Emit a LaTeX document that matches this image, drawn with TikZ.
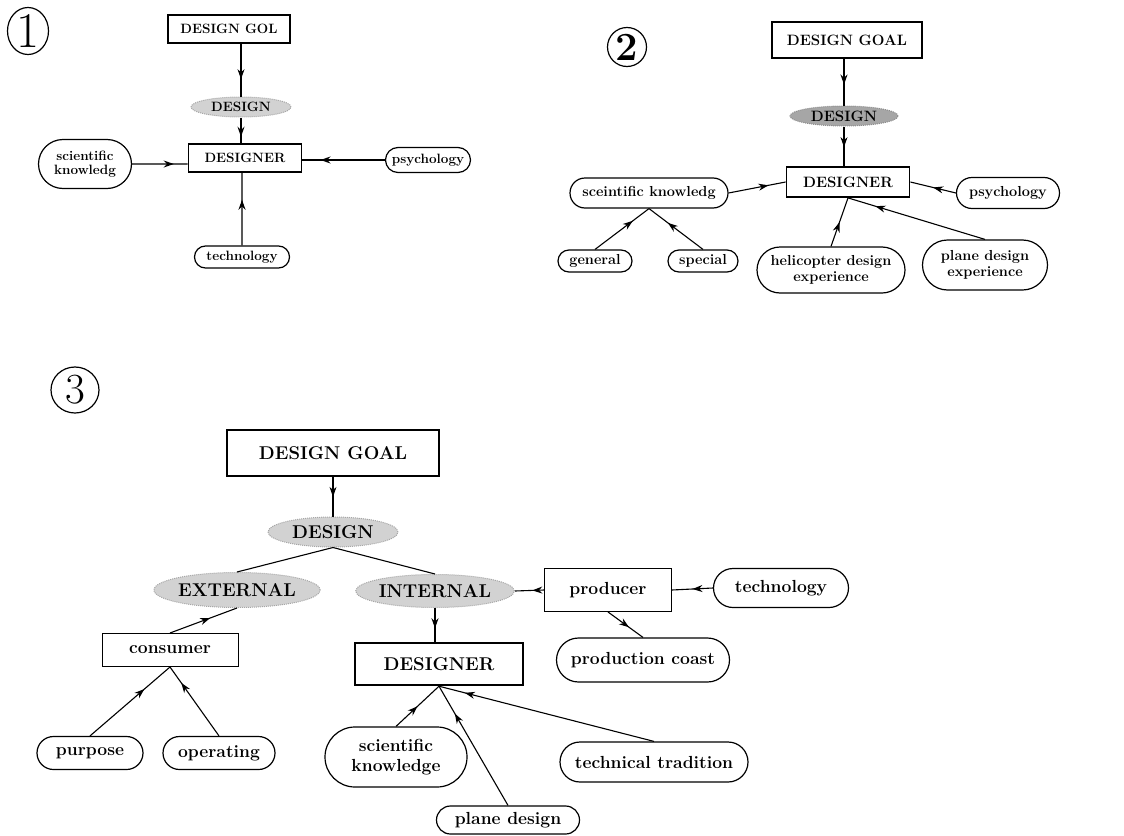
\documentclass[tikz,border=0pt]{standalone}
\usepackage{fontspec}
\usepackage{tikz}
\usetikzlibrary{shapes.geometric}
\usetikzlibrary{shapes.misc}
\usetikzlibrary{arrows.meta}
\usetikzlibrary{decorations.markings}
\tikzstyle{Box}=[rectangle,draw,line width=1.8pt,inner sep=0pt]
\tikzstyle{BoxThin}=[rectangle,draw,line width=1pt,inner sep=0pt]
\tikzstyle{Oval}=[rounded rectangle,draw,line width=1.2pt,inner sep=0pt,
align=center]
\tikzstyle{Cloud}=[ellipse,draw=gray!70,densely dotted,line width=1pt,
fill=gray!35,inner sep=0pt]
\tikzstyle{Num}=[ellipse,draw,line width=1.2pt,inner sep=0pt]
\tikzstyle{Edge}=[draw,line width=1.1pt]
\tikzset{Flow/.style={Edge,decoration={markings,mark=at position #1 with
    {\arrow{Stealth[length=10pt,width=7pt]}}},postaction={decorate}}}
\tikzstyle{CapA}=[font=\fontsize{13.5}{15}\selectfont\bfseries]
\tikzstyle{LowA}=[font=\fontsize{13.5}{14.5}\selectfont\bfseries]
\tikzstyle{CapB}=[font=\fontsize{15}{17}\selectfont\bfseries]
\tikzstyle{LowB}=[font=\fontsize{14.5}{15.5}\selectfont\bfseries]
\tikzstyle{CapC}=[font=\fontsize{18.5}{20}\selectfont\bfseries]
\tikzstyle{LowC}=[font=\fontsize{17.5}{20}\selectfont\bfseries]

\begin{document}
\begin{tikzpicture}[x=1pt,y=-1pt]
        \useasboundingbox(0,0)rectangle(1124,835);
        \node[Num,minimum width=41pt,minimum height=47pt,
            font=\fontsize{50}{50}\selectfont](numA)at(28,31){1};
        \node[Box,CapA,minimum width=122pt,minimum height=28pt](goalA)
            at(229,29){DESIGN GOL};
        \node[Cloud,CapA,minimum width=100pt,minimum height=20pt](designA)
            at(241,107){DESIGN};
        \node[Box,CapA,minimum width=113pt,minimum height=28pt](designerA)
            at(245,158){DESIGNER};
        \node[Oval,LowA,minimum width=93pt,minimum height=49pt](sciA)
            at(85,164){scientific\\knowledg};
        \node[Oval,LowA,minimum width=85pt,minimum height=25pt](psyA)
            at(428,160){psychology};
        \node[Oval,LowA,minimum width=95pt,minimum height=22pt](techA)
            at(242,257){technology};
        \draw[Flow=0.67](goalA.south -| designA)--(designA.north);
        \draw[Flow=0.75](designA.south)--(designA |- designerA.north);
        \draw[Flow=0.75](sciA)--(sciA -| designerA.west);
        \draw[Flow=0.78](psyA)--(psyA -| designerA.east);
        \draw[Flow=0.63](techA)--(techA |- designerA.south);

        \node[Num,minimum width=39pt,minimum height=39pt,
            font=\fontsize{40}{40}\selectfont\bfseries](numB)at(627,47){2};
        \node[Box,CapB,minimum width=150pt,minimum height=36pt](goalB)
            at(847,40){DESIGN GOAL};
        \node[Cloud,CapB,fill=gray!70,draw=gray!90,minimum width=108pt,
            minimum height=20pt](designB)at(844,116){DESIGN};
        \node[Box,CapB,minimum width=123pt,minimum height=30pt](designerB)
            at(848,182){DESIGNER};
        \node[Oval,LowB,minimum width=158pt,minimum height=30pt](sciB)
            at(649,193){sceintific knowledg};
        \node[Oval,LowB,minimum width=103pt,minimum height=31pt](psyB)
            at(1008,193){psychology};
        \node[Oval,LowB,minimum width=74pt,minimum height=22pt](generalB)
            at(595,261){general};
        \node[Oval,LowB,minimum width=70pt,minimum height=22pt](specialB)
            at(703,261){special};
        \node[Oval,LowB,minimum width=148pt,minimum height=46pt](heliB)
            at(831,270){helicopter design\\experience};
        \node[Oval,LowB,minimum width=125pt,minimum height=50pt](planeB)
            at(985,265){plane design\\experience};
        \draw[Flow=0.55](goalB.south -| designB)--(designB.north);
        \draw[Flow=0.52](designB.south)--(designB |- designerB.north);
        \draw[Flow=0.7](sciB.east)--(designerB.west);
        \draw[Flow=0.5](psyB.west)--(designerB.east);
        \draw[Flow=0.7](generalB.north)--(sciB.south);
        \draw[Flow=0.65](specialB.north)--(sciB.south);
        \draw[Flow=0.5](heliB.north)--(designerB.south);
        \draw[Flow=0.8](planeB.north)--(designerB.south);

        \node[Num,minimum width=48pt,minimum height=46pt,
            font=\fontsize{43}{43}\selectfont](numC)at(75,390){3};
        \node[Box,CapC,line width=2.4pt,minimum width=212pt,
            minimum height=46pt](goalC)at(333,453){DESIGN GOAL};
        \node[Cloud,CapC,minimum width=130pt,minimum height=30pt](designC)
            at(333,532){DESIGN};
        \node[Cloud,CapC,minimum width=160pt,minimum height=35pt](extC)
            at(237,590){EXTERNAL};
        \node[Cloud,CapC,minimum width=150pt,minimum height=33pt](intC)
            at(435,591){INTERNAL};
        \node[BoxThin,LowC,minimum width=136pt,minimum height=33pt](consC)
            at(170,650){consumer};
        \node[Oval,LowC,minimum width=106pt,minimum height=33pt](purpC)
            at(90,753){purpose};
        \node[Oval,LowC,minimum width=112pt,minimum height=33pt](operC)
            at(219,753){operating};
        \node[Box,CapC,line width=2.4pt,minimum width=168pt,
            minimum height=42pt](designerC)at(439,664){DESIGNER};
        \node[BoxThin,LowC,minimum width=127pt,minimum height=43pt](prodC)
            at(608,590){producer};
        \node[Oval,LowC,minimum width=135pt,minimum height=39pt](techC)
            at(781,588){technology};
        \node[Oval,LowC,minimum width=173pt,minimum height=44pt](costC)
            at(643,660){production coast};
        \node[Oval,LowC,minimum width=142pt,minimum height=60pt](sciC)
            at(396,757){scientific\\knowledge};
        \node[Oval,LowC,minimum width=143pt,minimum height=28pt](planeC)
            at(508,820){plane design};
        \node[Oval,LowC,minimum width=188pt,minimum height=40pt](tradC)
            at(654,762){technical tradition};
        \draw[Flow=0.5](goalC)--(designC);
        \draw[Edge](designC.south)--(extC.north);
        \draw[Edge](designC.south)--(intC.north);
        \draw[Flow=0.6](consC.north)--(extC.south);
        \draw[Flow=0.6](intC.south)--(intC.south |- designerC.north);
        \draw[Flow=0.4](prodC.west)--(intC.east);
        \draw[Flow=0.5](techC.west)--(prodC.east);
        \draw[Flow=0.6](prodC.south)--(costC.north);
        \draw[Flow=0.68](purpC.north)--(consC.south);
        \draw[Flow=0.77](operC.north)--(consC.south);
        \draw[Flow=0.5](sciC.north)--(designerC.south);
        \draw[Flow=0.77](planeC.north)--(designerC.south);
        \draw[Flow=0.88](tradC.north)--(designerC.south);
    \end{tikzpicture}
\end{document}
